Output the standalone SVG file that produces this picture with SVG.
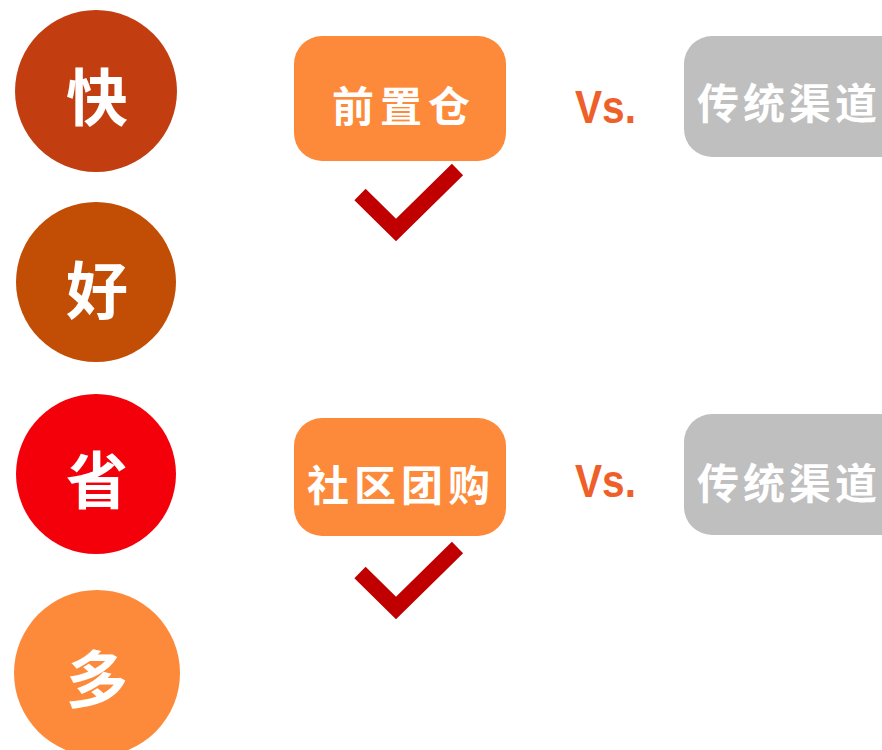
<svg xmlns="http://www.w3.org/2000/svg" width="882" height="750" viewBox="0 0 882 750">
<style>
.cjk{font-family:"Noto Sans CJK SC","Noto Sans CJK JP",sans-serif;font-weight:bold;fill:#FFFFFF;text-anchor:middle;dominant-baseline:central}
.big{font-size:62px}
.box{font-size:42px}
.vs{font-family:"Liberation Sans",Arial,sans-serif;font-weight:bold;font-size:46px;fill:#EE5F2A}
.orange{fill:#FD8A3A}
.grey{fill:#BFBFBF}
.check{fill:none;stroke:#C00000;stroke-width:16;stroke-linejoin:miter;stroke-linecap:butt}
</style>
<rect width="882" height="750" fill="#FFFFFF"/>
<g id="circle-kuai"><circle cx="96" cy="91" r="81" fill="#C23E11"/><text class="cjk big" x="97" y="94">快</text></g>
<g id="circle-hao"><circle cx="96" cy="282" r="80" fill="#C24D04"/><text class="cjk big" x="97" y="287">好</text></g>
<g id="circle-sheng"><circle cx="96" cy="474" r="80" fill="#F3000A"/><text class="cjk big" x="97" y="477">省</text></g>
<g id="circle-duo"><circle cx="97" cy="673" r="83" fill="#FD8A3A"/><text class="cjk big" x="97" y="676">多</text></g>
<g id="box-qianzhicang"><rect class="orange" x="294" y="36" width="212" height="125" rx="28"/><text class="cjk box" x="404" y="103" letter-spacing="6">前置仓</text></g>
<g id="box-shequtuangou"><rect class="orange" x="294" y="418" width="212" height="118" rx="28"/><text class="cjk box" x="401" y="482" letter-spacing="5">社区团购</text></g>
<g id="vs1"><text class="vs" x="575" y="123" textLength="61" lengthAdjust="spacingAndGlyphs">Vs.</text></g>
<g id="vs2"><text class="vs" x="575" y="497" textLength="61" lengthAdjust="spacingAndGlyphs">Vs.</text></g>
<g id="box-chuantong1"><rect class="grey" x="684" y="36" width="240" height="121" rx="28"/><text class="cjk box" x="697" y="100" style="text-anchor:start" letter-spacing="4">传统渠道</text></g>
<g id="box-chuantong2"><rect class="grey" x="684" y="414" width="240" height="121" rx="28"/><text class="cjk box" x="697" y="480" style="text-anchor:start" letter-spacing="4">传统渠道</text></g>
<g id="connectors">
<polyline class="check" points="360,194.5 396,230 457.5,169.5"/>
<polyline class="check" points="360,572.5 396,608 457.5,547.5"/>
</g>
</svg>
